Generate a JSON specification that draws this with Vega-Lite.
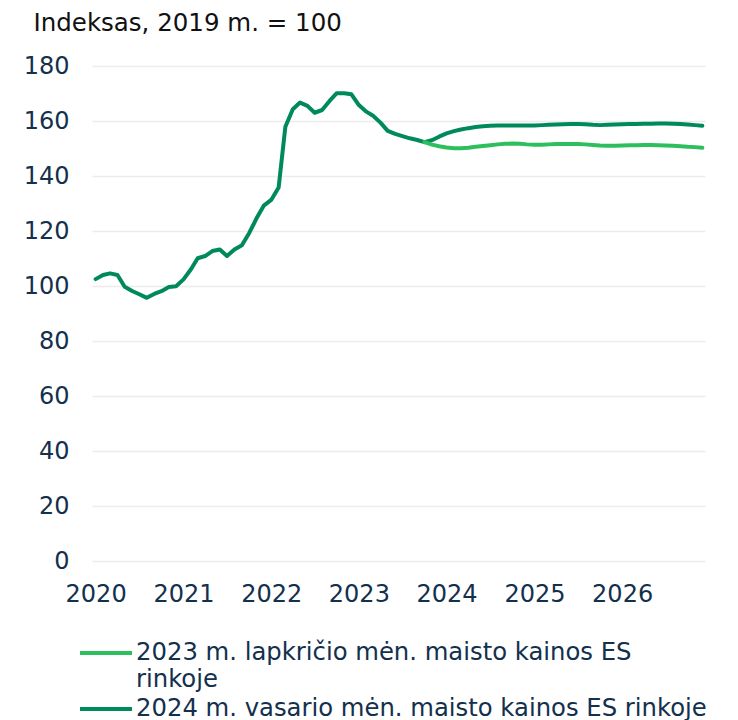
{
  "$schema": "https://vega.github.io/schema/vega-lite/v6.json",
  "width": 613,
  "height": 495,
  "autosize": {"type": "none"},
  "padding": {"left": 92, "top": 66, "right": 33, "bottom": 159},
  "background": "white",
  "config": {"view": {"stroke": null}, "font": "DejaVu Sans"},
  "data": {"values": [
    {"d": "2020-01", "feb": 102.5},
    {"d": "2020-02", "feb": 104.0},
    {"d": "2020-03", "feb": 104.6},
    {"d": "2020-04", "feb": 104.0},
    {"d": "2020-05", "feb": 99.7},
    {"d": "2020-06", "feb": 98.2},
    {"d": "2020-07", "feb": 97.0},
    {"d": "2020-08", "feb": 95.7},
    {"d": "2020-09", "feb": 97.1},
    {"d": "2020-10", "feb": 98.1},
    {"d": "2020-11", "feb": 99.6},
    {"d": "2020-12", "feb": 99.9},
    {"d": "2021-01", "feb": 102.4},
    {"d": "2021-02", "feb": 106.1},
    {"d": "2021-03", "feb": 110.1},
    {"d": "2021-04", "feb": 110.9},
    {"d": "2021-05", "feb": 112.7},
    {"d": "2021-06", "feb": 113.3},
    {"d": "2021-07", "feb": 110.9},
    {"d": "2021-08", "feb": 113.3},
    {"d": "2021-09", "feb": 114.8},
    {"d": "2021-10", "feb": 119.2},
    {"d": "2021-11", "feb": 124.6},
    {"d": "2021-12", "feb": 129.2},
    {"d": "2022-01", "feb": 131.3},
    {"d": "2022-02", "feb": 135.8},
    {"d": "2022-03", "feb": 157.9},
    {"d": "2022-04", "feb": 164.3},
    {"d": "2022-05", "feb": 166.7},
    {"d": "2022-06", "feb": 165.5},
    {"d": "2022-07", "feb": 163.0},
    {"d": "2022-08", "feb": 164.0},
    {"d": "2022-09", "feb": 167.3},
    {"d": "2022-10", "feb": 170.1},
    {"d": "2022-11", "feb": 170.1},
    {"d": "2022-12", "feb": 169.7},
    {"d": "2023-01", "feb": 165.8},
    {"d": "2023-02", "feb": 163.4},
    {"d": "2023-03", "feb": 161.9},
    {"d": "2023-04", "feb": 159.4},
    {"d": "2023-05", "feb": 156.4},
    {"d": "2023-06", "feb": 155.3},
    {"d": "2023-07", "feb": 154.5},
    {"d": "2023-08", "feb": 153.7},
    {"d": "2023-09", "feb": 153.1},
    {"d": "2023-10", "feb": 152.3, "nov": 152.3},
    {"d": "2023-11", "feb": 153.0, "nov": 151.4},
    {"d": "2023-12", "feb": 154.3, "nov": 150.8},
    {"d": "2024-01", "feb": 155.5, "nov": 150.4},
    {"d": "2024-02", "feb": 156.3, "nov": 150.1},
    {"d": "2024-03", "feb": 156.9, "nov": 150.1},
    {"d": "2024-04", "feb": 157.4, "nov": 150.3},
    {"d": "2024-05", "feb": 157.8, "nov": 150.6},
    {"d": "2024-06", "feb": 158.1, "nov": 150.9},
    {"d": "2024-07", "feb": 158.3, "nov": 151.2},
    {"d": "2024-08", "feb": 158.4, "nov": 151.5},
    {"d": "2024-09", "feb": 158.4, "nov": 151.7},
    {"d": "2024-10", "feb": 158.4, "nov": 151.8},
    {"d": "2024-11", "feb": 158.4, "nov": 151.7},
    {"d": "2024-12", "feb": 158.4, "nov": 151.5},
    {"d": "2025-01", "feb": 158.4, "nov": 151.4},
    {"d": "2025-02", "feb": 158.5, "nov": 151.4},
    {"d": "2025-03", "feb": 158.6, "nov": 151.5},
    {"d": "2025-04", "feb": 158.7, "nov": 151.6},
    {"d": "2025-05", "feb": 158.8, "nov": 151.6},
    {"d": "2025-06", "feb": 158.9, "nov": 151.6},
    {"d": "2025-07", "feb": 158.9, "nov": 151.6},
    {"d": "2025-08", "feb": 158.8, "nov": 151.5},
    {"d": "2025-09", "feb": 158.6, "nov": 151.3},
    {"d": "2025-10", "feb": 158.5, "nov": 151.1},
    {"d": "2025-11", "feb": 158.6, "nov": 151.0},
    {"d": "2025-12", "feb": 158.7, "nov": 151.0},
    {"d": "2026-01", "feb": 158.8, "nov": 151.1},
    {"d": "2026-02", "feb": 158.9, "nov": 151.2},
    {"d": "2026-03", "feb": 158.9, "nov": 151.2},
    {"d": "2026-04", "feb": 159.0, "nov": 151.3},
    {"d": "2026-05", "feb": 159.0, "nov": 151.3},
    {"d": "2026-06", "feb": 159.1, "nov": 151.2},
    {"d": "2026-07", "feb": 159.1, "nov": 151.1},
    {"d": "2026-08", "feb": 159.0, "nov": 151.0},
    {"d": "2026-09", "feb": 158.9, "nov": 150.8},
    {"d": "2026-10", "feb": 158.7, "nov": 150.6},
    {"d": "2026-11", "feb": 158.5, "nov": 150.5},
    {"d": "2026-12", "feb": 158.3, "nov": 150.3}
  ]},
  "transform": [
    {"fold": ["nov", "feb"], "as": ["series", "value"]},
    {"filter": "isValid(datum.value)"}
  ],
  "mark": {"type": "line", "strokeWidth": 4, "strokeJoin": "round", "strokeCap": "round"},
  "encoding": {
    "x": {
      "field": "d",
      "type": "temporal",
      "scale": {
        "type": "utc",
        "nice": false,
        "domain": [
          {"year": 2019, "month": 12, "date": 17, "utc": true},
          {"year": 2026, "month": 12, "date": 12, "utc": true}
        ]
      },
      "axis": {
        "title": null,
        "format": "%Y",
        "tickCount": {"interval": "year", "step": 1},
        "grid": false,
        "ticks": false,
        "tickSize": 0,
        "domain": false,
        "labelPadding": 21,
        "labelFontSize": 24,
        "labelColor": "#13304d",
        "labelFont": "DejaVu Sans"
      }
    },
    "y": {
      "field": "value",
      "type": "quantitative",
      "scale": {"domain": [0, 180], "nice": false, "zero": true},
      "axis": {
        "values": [0, 20, 40, 60, 80, 100, 120, 140, 160, 180],
        "title": "Indeksas, 2019 m. = 100",
        "titleAngle": 0,
        "titleAlign": "left",
        "titleBaseline": "alphabetic",
        "titleX": -59,
        "titleY": -36,
        "titleFontSize": 24.5,
        "titleFontWeight": "normal",
        "titleColor": "#111111",
        "titleFont": "DejaVu Sans",
        "grid": true,
        "gridColor": "#ececec",
        "gridWidth": 1.3,
        "ticks": false,
        "tickSize": 0,
        "domain": false,
        "labelPadding": 23,
        "labelFontSize": 24,
        "labelColor": "#13304d",
        "labelFont": "DejaVu Sans"
      }
    },
    "color": {
      "field": "series",
      "type": "nominal",
      "scale": {"domain": ["nov", "feb"], "range": ["#2dbf5e", "#008a5c"]},
      "legend": {
        "title": null,
        "orient": "none",
        "direction": "vertical",
        "legendX": -2,
        "legendY": 571,
        "padding": 0,
        "symbolType": "M-1.857,0H1.857",
        "symbolSize": 784,
        "symbolStrokeWidth": 4,
        "labelOffset": 14,
        "labelFontSize": 24.3,
        "labelColor": "#13304d",
        "labelFont": "DejaVu Sans",
        "labelLimit": 700,
        "labelBaseline": "middle",
        "rowPadding": 0,
        "labelExpr": "datum.value == 'nov' ? ['2023 m. lapkričio mėn. maisto kainos ES', 'rinkoje'] : '2024 m. vasario mėn. maisto kainos ES rinkoje'",
        "encode": {
          "labels": {
            "update": {
              "lineHeight": {"value": 27}
            }
          }
        }
      }
    }
  }
}
